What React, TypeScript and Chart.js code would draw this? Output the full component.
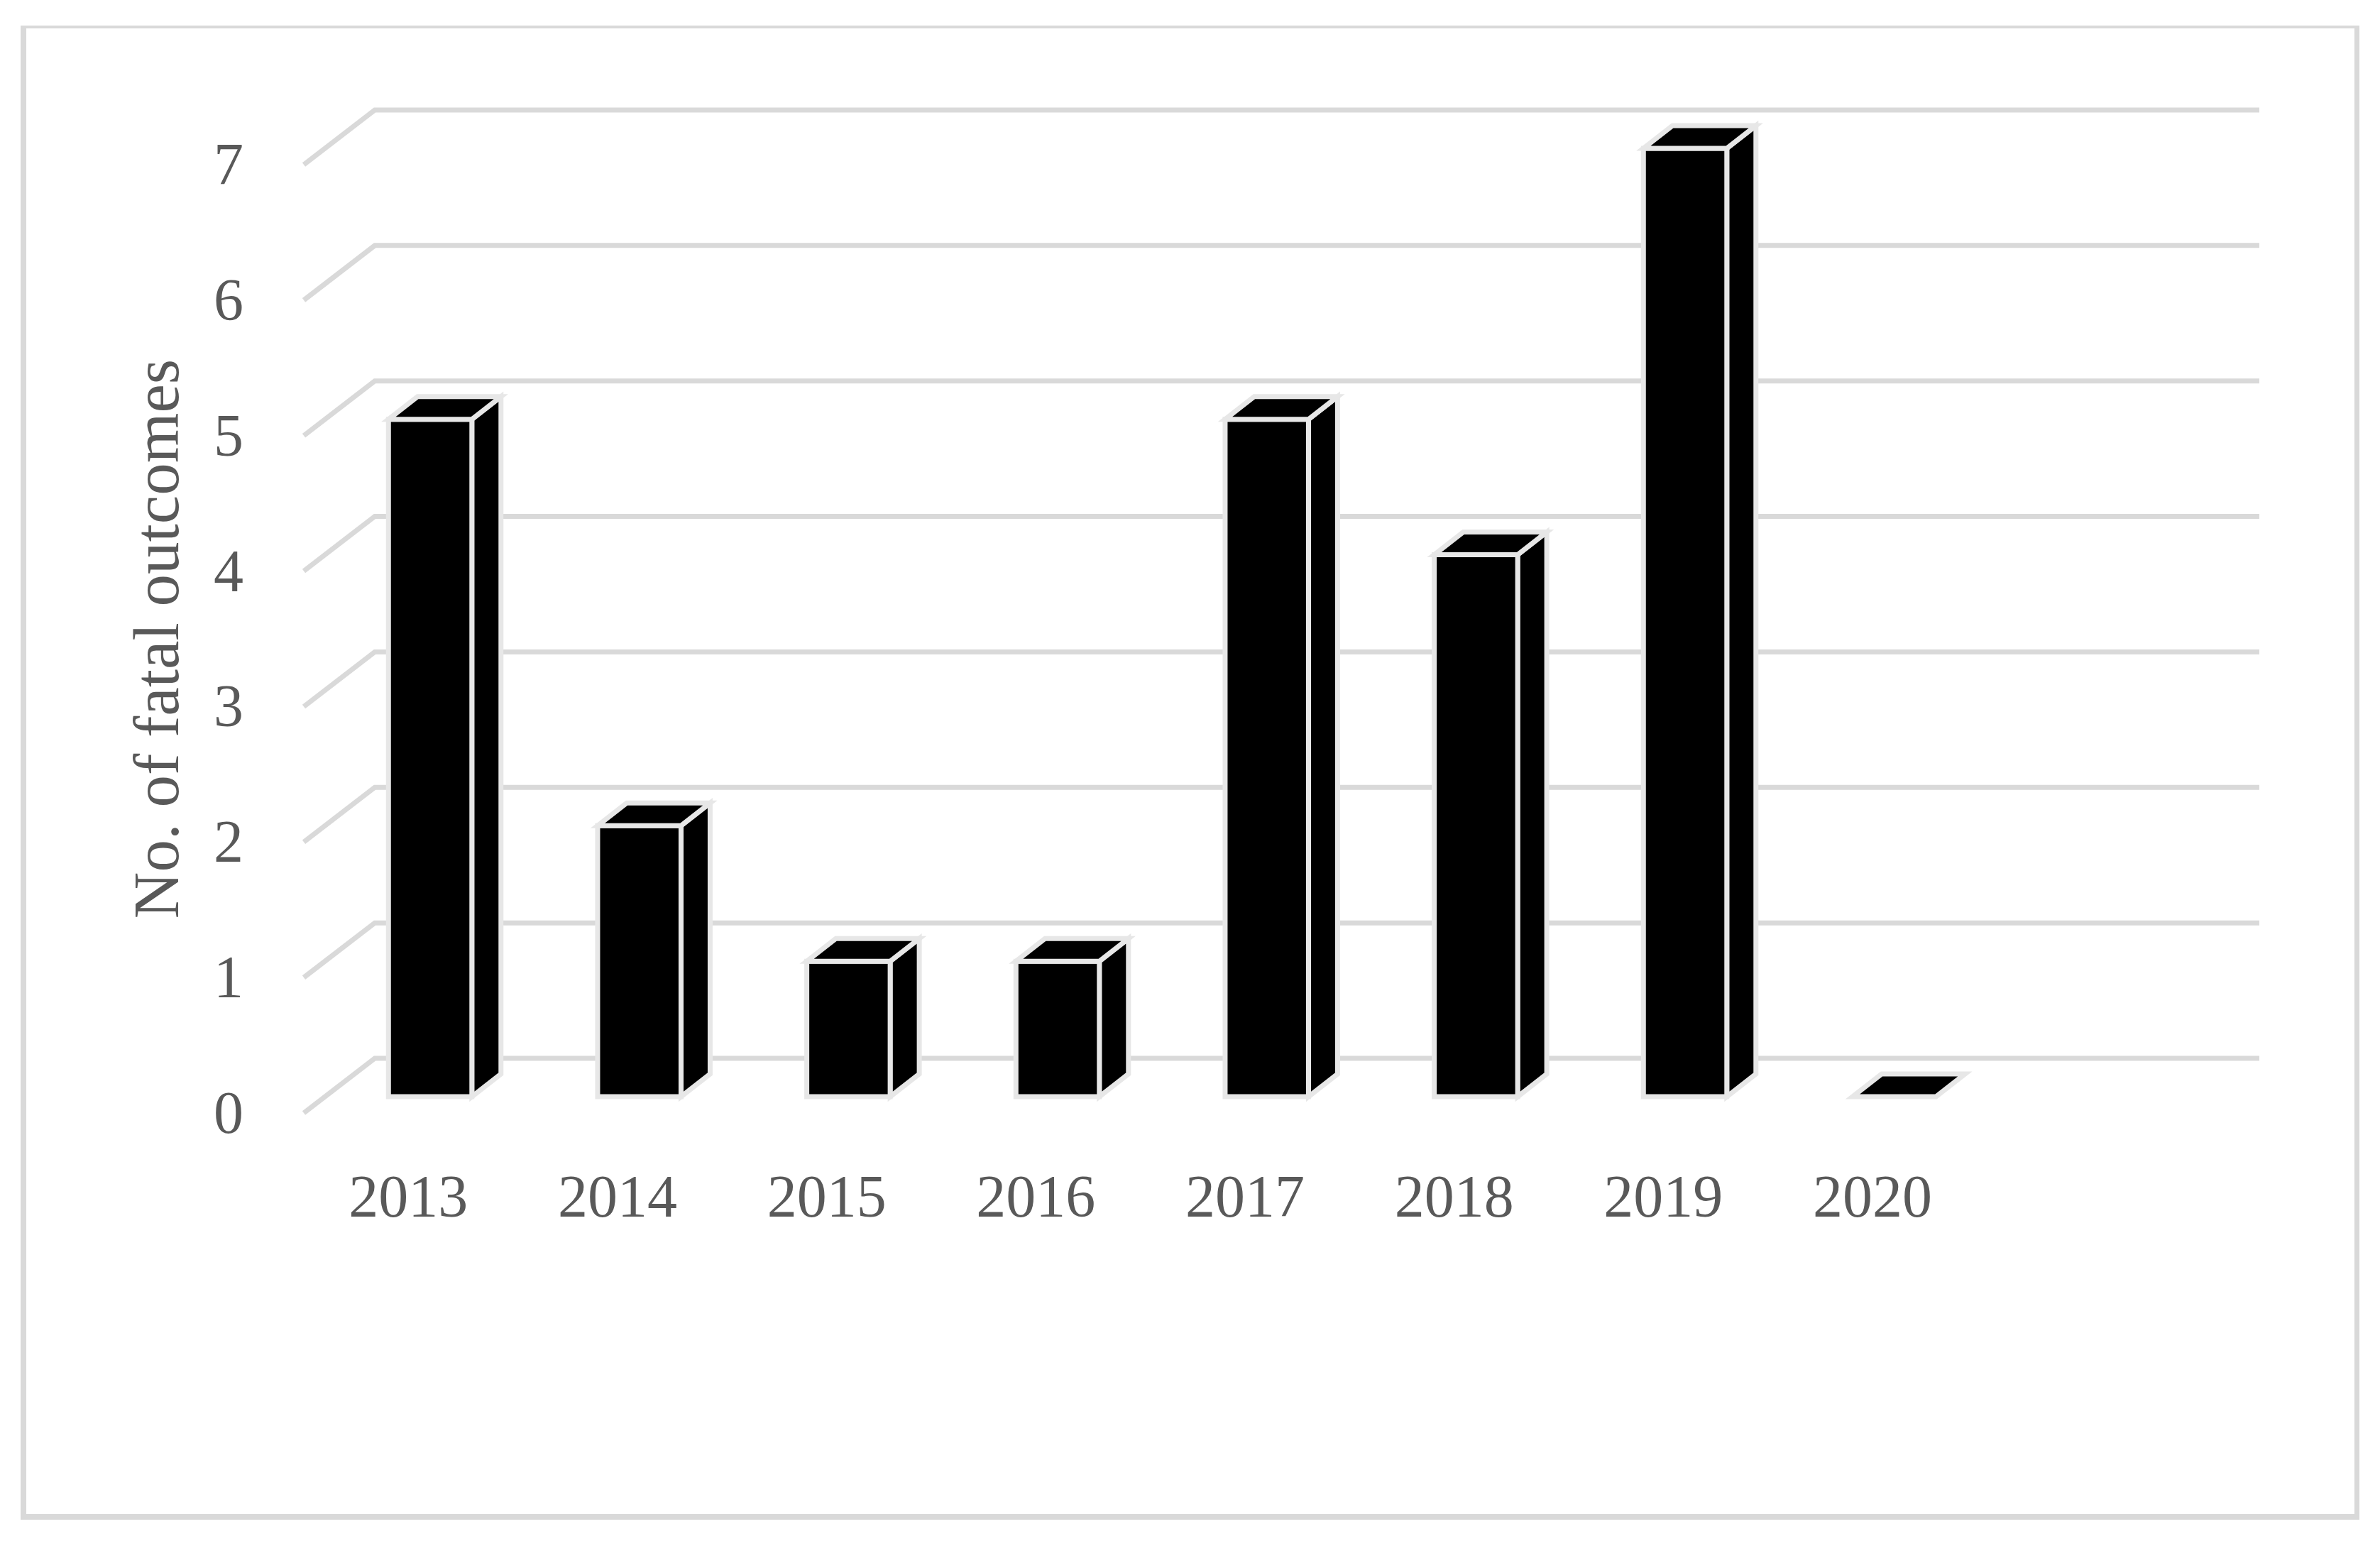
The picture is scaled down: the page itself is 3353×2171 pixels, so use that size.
import React, { useEffect, useRef } from "react";
import { Chart, registerables } from "chart.js";

Chart.register(...registerables);

const categories = ["2013", "2014", "2015", "2016", "2017", "2018", "2019", "2020", ""];
const fatalOutcomes = [5, 2, 1, 1, 5, 4, 7, 0, null];
const yTickMax = 7;
const axisTitle = "No. of fatal outcomes";

const FONT = '"Liberation Serif", serif';
const TEXT = "#595959";
const GRID = "#d9d9d9";
const EDGE = "#e7e7e7";

const BACK_DX = 100;
const BACK_DY = 77;
const GRID_RIGHT = 3183;
const BAR_SHIFT_X = 30.7;
const BAR_SHIFT_Y = 23;
const DEPTH_X = 41;
const DEPTH_Y = 32;

const poly = (ctx: CanvasRenderingContext2D, pts: number[][]) => {
  ctx.beginPath();
  pts.forEach(([x, y], i) => (i ? ctx.lineTo(x, y) : ctx.moveTo(x, y)));
  ctx.closePath();
  ctx.fill();
  ctx.stroke();
};

const scene3d = {
  id: "scene3d",
  beforeDraw(chart: any) {
    const { ctx, width, height } = chart;
    ctx.save();
    ctx.fillStyle = "#ffffff";
    ctx.fillRect(0, 0, width, height);
    ctx.fillStyle = GRID;
    ctx.fillRect(29, 36, 3295, 4);
    ctx.fillRect(29, 2133, 3295, 8);
    ctx.fillRect(29, 36, 8, 2105);
    ctx.fillRect(3317, 36, 7, 2105);
    ctx.restore();
  },
  beforeDatasetsDraw(chart: any) {
    const { ctx, chartArea, scales } = chart;
    ctx.save();
    ctx.strokeStyle = GRID;
    ctx.lineWidth = 7;
    ctx.lineJoin = "miter";
    scales.y.ticks.forEach((t: any) => {
      const y = scales.y.getPixelForValue(t.value);
      ctx.beginPath();
      ctx.moveTo(chartArea.left, y);
      ctx.lineTo(chartArea.left + BACK_DX, y - BACK_DY);
      ctx.lineTo(GRID_RIGHT, y - BACK_DY);
      ctx.stroke();
    });
    ctx.restore();
    ctx.save();
    ctx.translate(BAR_SHIFT_X, -BAR_SHIFT_Y);
  },
  afterDatasetsDraw(chart: any) {
    const { ctx } = chart;
    ctx.restore();
    ctx.save();
    ctx.fillStyle = "#000000";
    ctx.strokeStyle = EDGE;
    ctx.lineWidth = 7;
    ctx.lineJoin = "miter";
    chart.getDatasetMeta(0).data.forEach((bar: any, i: number) => {
      if (fatalOutcomes[i] == null) return;
      const p = bar.getProps(["x", "y", "base", "width"], true);
      const L = p.x - p.width / 2 + BAR_SHIFT_X;
      const R = p.x + p.width / 2 + BAR_SHIFT_X;
      const T = p.y - BAR_SHIFT_Y;
      const B = p.base - BAR_SHIFT_Y;
      if (B > T) {
        poly(ctx, [[R, T], [R + DEPTH_X, T - DEPTH_Y], [R + DEPTH_X, B - DEPTH_Y], [R, B]]);
        poly(ctx, [[L, T], [R, T], [R, B], [L, B]]);
      }
      poly(ctx, [[L, T], [L + DEPTH_X, T - DEPTH_Y], [R + DEPTH_X, T - DEPTH_Y], [R, T]]);
    });
    ctx.restore();
  },
};

export default function App() {
  const ref = useRef<HTMLCanvasElement | null>(null);
  useEffect(() => {
    const chart = new Chart(ref.current as HTMLCanvasElement, {
      type: "bar",
      data: {
        labels: categories,
        datasets: [
          {
            label: axisTitle,
            data: fatalOutcomes,
            backgroundColor: "#000000",
            borderWidth: 0,
            barThickness: 117.5,
            clip: false,
          } as any,
        ],
      },
      options: {
        animation: false,
        responsive: false,
        layout: { padding: { top: 232, right: 273, left: 0, bottom: 0 } },
        plugins: { legend: { display: false }, tooltip: { enabled: false } },
        scales: {
          x: {
            grid: { display: false, drawTicks: false },
            border: { display: false },
            ticks: {
              color: TEXT,
              font: { family: FONT, size: 84 },
              padding: 74,
              autoSkip: false,
              maxRotation: 0,
              minRotation: 0,
            },
            afterFit: (s: any) => {
              s.height = 603;
            },
          },
          y: {
            min: 0,
            max: yTickMax,
            grid: { display: false, drawTicks: false },
            border: { display: false },
            ticks: {
              stepSize: 1,
              color: TEXT,
              font: { family: FONT, size: 84 },
              padding: 85,
              labelOffset: 6,
            },
            title: {
              display: true,
              text: axisTitle,
              color: TEXT,
              font: { family: FONT, size: 91 },
              padding: { top: 172, bottom: 0 },
            },
            afterFit: (s: any) => {
              s.width = 428;
            },
          },
        },
      },
      plugins: [scene3d],
    } as any);
    return () => chart.destroy();
  }, []);
  return (
    <canvas
      ref={ref}
      width={3353}
      height={2171}
      style={{ position: "absolute", left: 0, top: 0, width: 3353, height: 2171 }}
    />
  );
}
